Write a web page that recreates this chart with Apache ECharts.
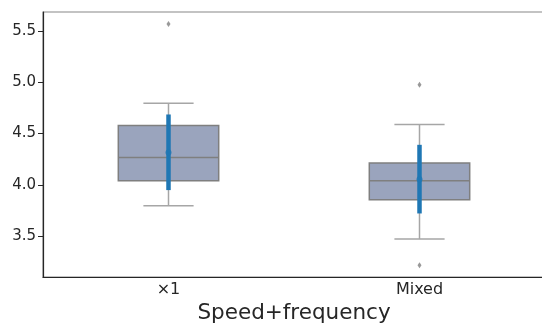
<!DOCTYPE html>
<html>
<head>
<meta charset="utf-8">
<script src="https://cdn.jsdelivr.net/npm/echarts@6/dist/echarts.min.js"></script>
<style>html,body{margin:0;padding:0;background:#fff}#c{width:542px;height:325px}</style>
</head>
<body>
<div id="c"></div>
<script>
var categories = ['×1', 'Mixed'];
// [lower whisker, Q1, median, Q3, upper whisker]
var boxValues = [
  [3.795, 4.04, 4.267, 4.578, 4.796],
  [3.47, 3.853, 4.04, 4.212, 4.588]
];
// outliers: [category index, value]
var outliers = [[0, 5.568], [1, 4.977], [1, 3.214]];
// mean and error bar [low, high]
var means = [4.315, 4.055];
var errLow = [3.948, 3.72];
var errHigh = [4.686, 4.39];
var yTicks = [3.5, 4.0, 4.5, 5.0, 5.5];

var chart = echarts.init(document.getElementById('c'));
var font = 'DejaVu Sans';
chart.setOption({
  animation: false,
  grid: {left: 43, right: -3, top: 12, bottom: 48, show: true, borderColor: '#888', borderWidth: 1.2,
    containLabel: false, outerBoundsMode: 'none'},
  xAxis: {
    type: 'category', data: categories,
    name: 'Speed+frequency', nameLocation: 'middle', nameGap: 23,
    nameTextStyle: {fontFamily: font, fontSize: 21.5, color: '#262626'},
    axisLine: {lineStyle: {color: '#262626', width: 1.2}},
    axisTick: {alignWithLabel: true, length: 3, lineStyle: {color: '#262626'}},
    axisLabel: {fontFamily: font, fontSize: 16, color: '#262626', margin: 5},
    splitLine: {show: false}
  },
  yAxis: {
    type: 'value', min: 3.1, max: 5.686,
    axisLine: {show: true, lineStyle: {color: '#262626', width: 1.2}},
    axisTick: {show: true, length: 5, customValues: yTicks, lineStyle: {color: '#262626'}},
    axisLabel: {fontFamily: font, fontSize: 15, color: '#262626', margin: 7, customValues: yTicks,
      formatter: function (v) { return v.toFixed(1); }},
    splitLine: {show: false}
  },
  series: [
    {
      type: 'custom',
      data: boxValues.map(function (b, i) { return [i].concat(b); }),
      renderItem: function (params, api) {
        var i = api.value(0);
        var bw = api.size([1, 0])[0] * 0.4;
        var cx = api.coord([i, 0])[0];
        var lo = api.coord([i, api.value(1)])[1];
        var q1 = api.coord([i, api.value(2)])[1];
        var md = api.coord([i, api.value(3)])[1];
        var q3 = api.coord([i, api.value(4)])[1];
        var hi = api.coord([i, api.value(5)])[1];
        var edge = '#7f7f7f', wc = '#a6a6a6';
        return {type: 'group', children: [
          {type: 'line', shape: {x1: cx, y1: q1, x2: cx, y2: lo}, style: {stroke: wc, lineWidth: 1.5}},
          {type: 'line', shape: {x1: cx, y1: q3, x2: cx, y2: hi}, style: {stroke: wc, lineWidth: 1.5}},
          {type: 'line', shape: {x1: cx - bw / 4, y1: lo, x2: cx + bw / 4, y2: lo}, style: {stroke: wc, lineWidth: 1.5}},
          {type: 'line', shape: {x1: cx - bw / 4, y1: hi, x2: cx + bw / 4, y2: hi}, style: {stroke: wc, lineWidth: 1.5}},
          {type: 'rect', shape: {x: cx - bw / 2, y: q3, width: bw, height: q1 - q3}, style: {fill: '#9aa4bd', stroke: edge, lineWidth: 1.5}},
          {type: 'line', shape: {x1: cx - bw / 2, y1: md, x2: cx + bw / 2, y2: md}, style: {stroke: edge, lineWidth: 1.5}}
        ]};
      },
      z: 2
    },
    {
      type: 'scatter',
      data: outliers,
      symbol: 'diamond', symbolSize: [4, 6],
      itemStyle: {color: '#7f7f7f'},
      z: 3
    },
    {
      type: 'custom',
      data: errLow.map(function (l, i) { return [i, l, errHigh[i]]; }),
      renderItem: function (params, api) {
        var i = api.value(0);
        var cx = api.coord([i, 0])[0];
        var a = api.coord([i, api.value(1)])[1];
        var b = api.coord([i, api.value(2)])[1];
        return {type: 'line', shape: {x1: cx, y1: a, x2: cx, y2: b}, style: {stroke: '#1f77b4', lineWidth: 4.5}};
      },
      z: 4
    },
    {
      type: 'scatter',
      data: means.map(function (m, i) { return [i, m]; }),
      symbol: 'circle', symbolSize: 6,
      itemStyle: {color: '#1f77b4'},
      z: 5
    }
  ]
});
</script>
</body>
</html>
